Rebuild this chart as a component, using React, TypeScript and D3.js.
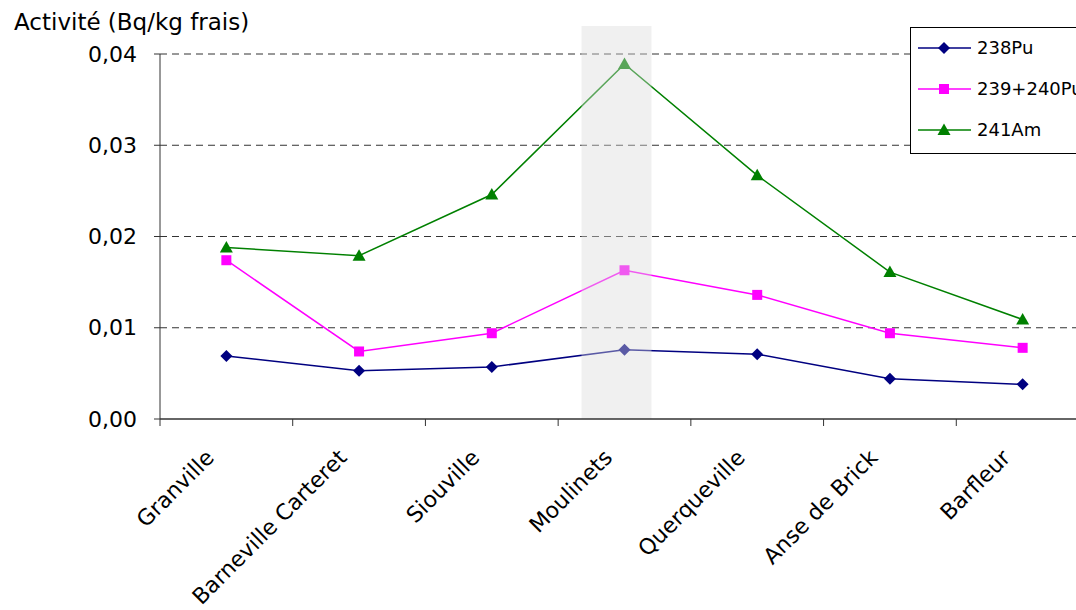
import React from "react";
import * as d3 from "d3";

const sites = ["Granville", "Barneville Carteret", "Siouville", "Moulinets", "Querqueville", "Anse de Brick", "Barfleur"];
const pu238 = [0.0069, 0.0053, 0.0057, 0.0076, 0.0071, 0.0044, 0.0038];
const pu239240 = [0.0174, 0.0074, 0.0094, 0.0163, 0.0136, 0.0094, 0.0078];
const am241 = [0.0188, 0.0179, 0.0246, 0.0389, 0.0267, 0.0161, 0.0109];
const yTicks = [0, 0.01, 0.02, 0.03, 0.04];
const highlighted = "Moulinets";

const seriesList = [
  { name: "238Pu", values: pu238, color: "#000080", marker: "diamond" },
  { name: "239+240Pu", values: pu239240, color: "#ff00ff", marker: "square" },
  { name: "241Am", values: am241, color: "#008000", marker: "triangle" },
];

const W = 1076;
const H = 610;
const left = 160;
const right = 1089;
const top = 54;
const bottom = 419;
const font = "'DejaVu Sans', Verdana, sans-serif";

function Marker({ kind, x, y, color }: { kind: string; x: number; y: number; color: string }) {
  if (kind === "diamond") {
    const r = 6;
    return <path d={`M${x},${y - r}L${x + r},${y}L${x},${y + r}L${x - r},${y}Z`} fill={color} />;
  }
  if (kind === "square") {
    return <rect x={x - 5} y={y - 5} width={10} height={10} fill={color} />;
  }
  return <path d={`M${x},${y - 6.5}L${x + 6.5},${y + 5}L${x - 6.5},${y + 5}Z`} fill={color} />;
}

export default function App() {
  const x = d3.scaleBand<string>().domain(sites).range([left, right]);
  const y = d3.scaleLinear().domain([0, 0.04]).range([bottom, top]);
  const cx = (s: string) => (x(s) as number) + x.bandwidth() / 2;
  const fmt = (v: number) => d3.format(".2f")(v).replace(".", ",");
  const line = d3
    .line<number>()
    .x((_, i) => cx(sites[i]))
    .y((v) => y(v));

  const hx = cx(highlighted);

  return (
    <svg width={W} height={H} style={{ position: "absolute", left: 0, top: 0, background: "#fff" }}>
      {/* horizontal dashed gridlines */}
      {yTicks
        .filter((t) => t > 0)
        .map((t) => (
          <line key={t} x1={left} x2={W} y1={y(t)} y2={y(t)} stroke="#333" strokeWidth={1} strokeDasharray="7,5" />
        ))}

      {/* series lines and markers */}
      {seriesList.map((s) => (
        <g key={s.name}>
          <path d={line(s.values) as string} fill="none" stroke={s.color} strokeWidth={1.5} />
          {s.values.map((v, i) => (
            <Marker key={i} kind={s.marker} x={cx(sites[i])} y={y(v)} color={s.color} />
          ))}
        </g>
      ))}

      {/* highlighted site overlay */}
      <rect x={hx - 43} y={26} width={70} height={bottom - 26} fill="rgb(219,219,219)" fillOpacity={0.41} />

      {/* y axis */}
      <line x1={left} x2={left} y1={top} y2={bottom} stroke="#333" strokeWidth={1} />
      {yTicks.map((t) => (
        <g key={t}>
          <line x1={left - 6} x2={left} y1={y(t)} y2={y(t)} stroke="#333" />
          <text x={137} y={y(t)} dy="0.35em" textAnchor="end" fontFamily={font} fontSize={22} fill="#000">
            {fmt(t)}
          </text>
        </g>
      ))}

      {/* x axis */}
      <line x1={left} x2={W} y1={bottom} y2={bottom} stroke="#333" strokeWidth={1.5} />
      {sites.map((s) => (
        <line key={s} x1={x(s) as number} x2={x(s) as number} y1={bottom} y2={bottom + 7} stroke="#333" />
      ))}
      {sites.map((s) => (
        <text
          key={s}
          transform={`translate(${cx(s) - 11},${bottom + 40}) rotate(-45)`}
          textAnchor="end"
          fontFamily={font}
          fontSize={22}
          fill="#000"
        >
          {s}
        </text>
      ))}

      {/* axis title */}
      <text x={14} y={30} fontFamily={font} fontSize={23} fill="#000">
        Activité (Bq/kg frais)
      </text>

      {/* legend */}
      <rect x={910.5} y={27.5} width={180} height={126} fill="#fff" stroke="#000" strokeWidth={1} />
      {seriesList.map((s, i) => {
        const ly = 48 + i * 41;
        return (
          <g key={s.name}>
            <line x1={918} x2={971} y1={ly} y2={ly} stroke={s.color} strokeWidth={1.5} />
            <Marker kind={s.marker} x={944} y={ly} color={s.color} />
            <text x={977} y={ly} dy="0.35em" fontFamily={font} fontSize={18} fill="#000">
              {s.name}
            </text>
          </g>
        );
      })}
    </svg>
  );
}
